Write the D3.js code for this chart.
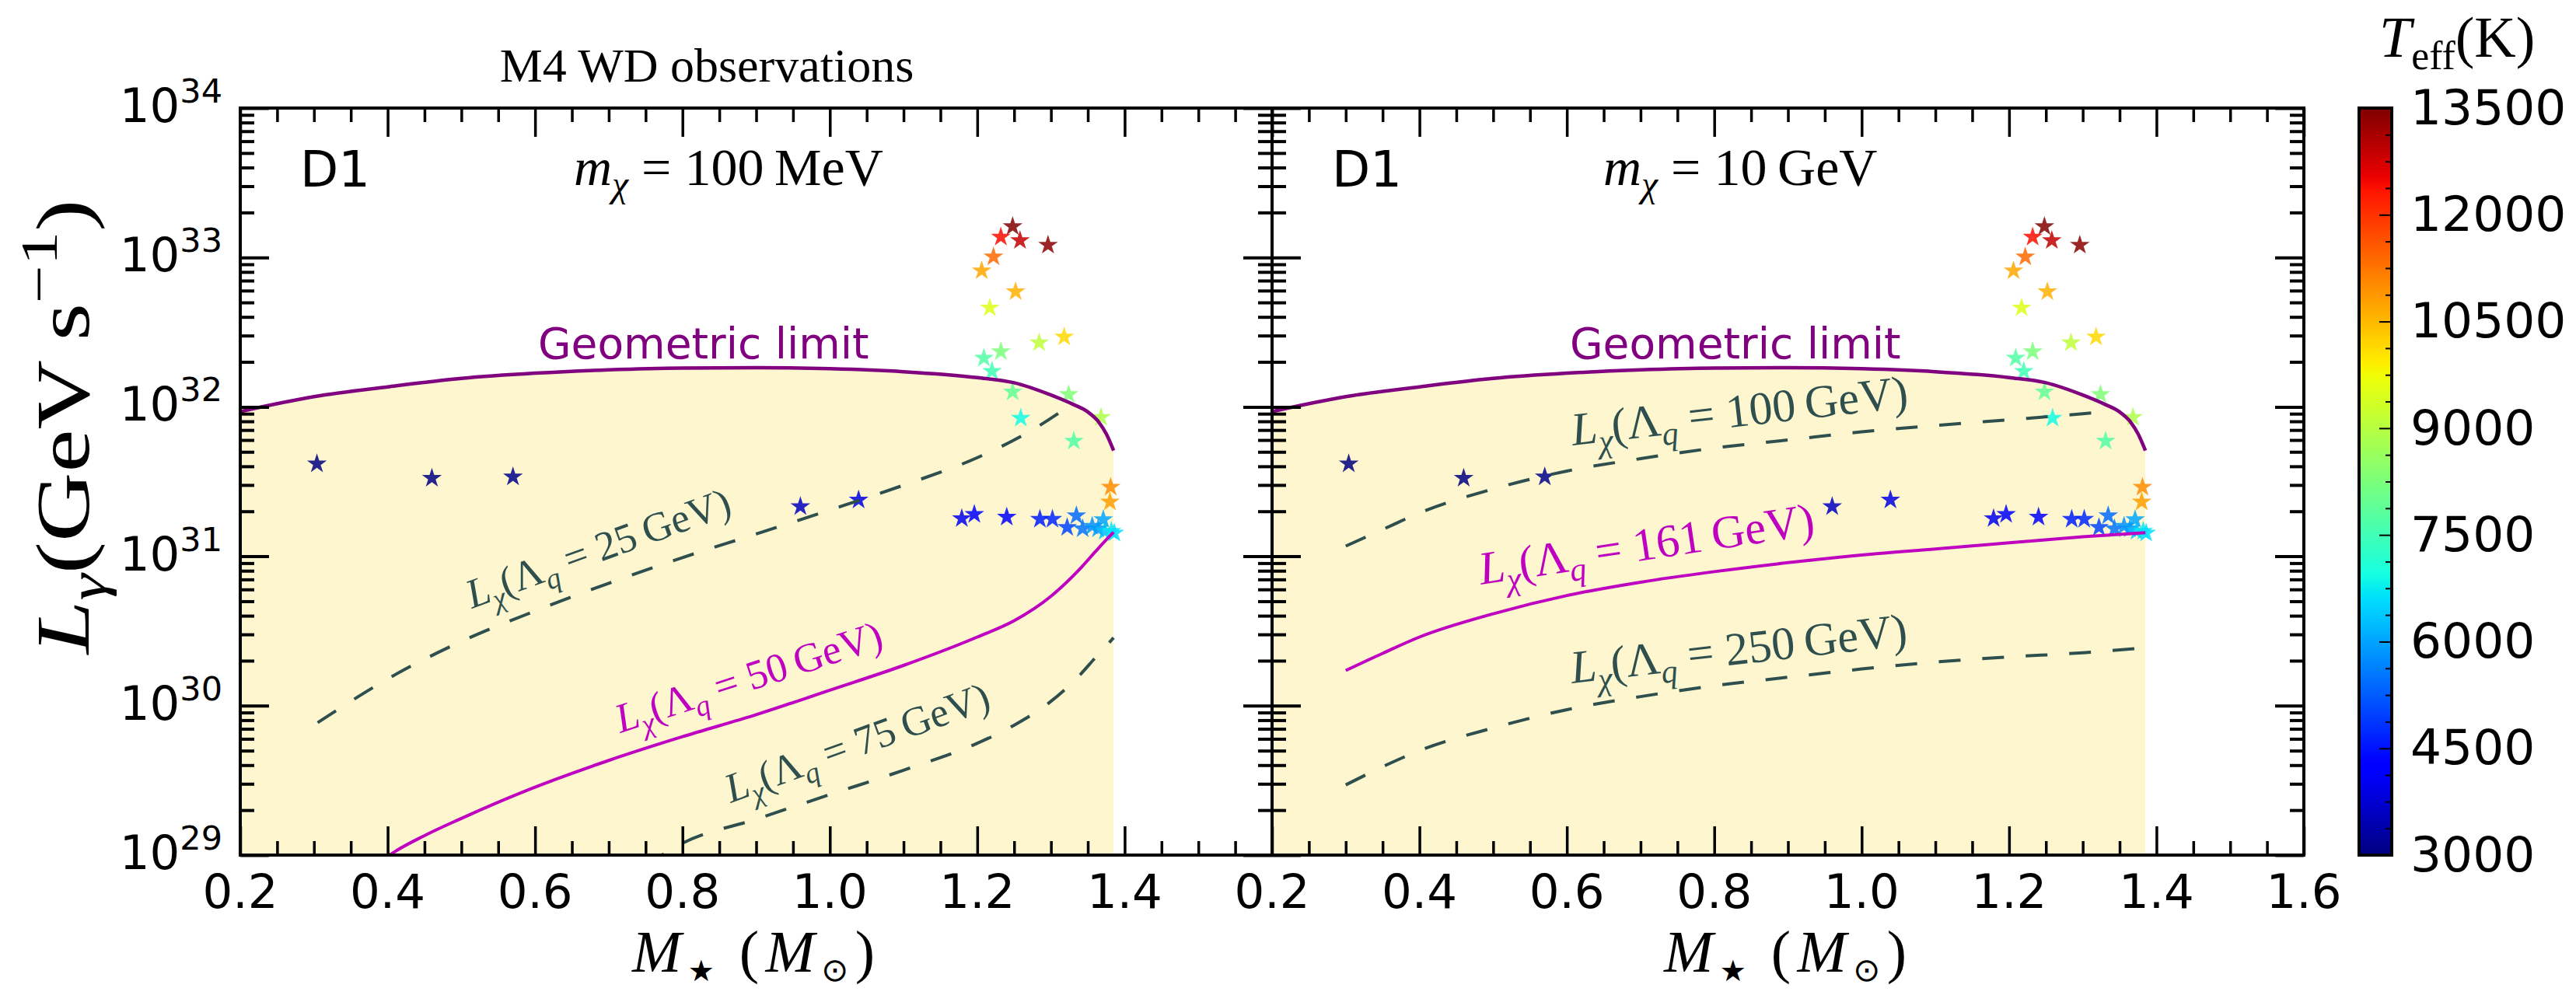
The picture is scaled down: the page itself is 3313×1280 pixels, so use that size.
<!DOCTYPE html>
<html>
<head>
<meta charset="utf-8">
<script src="https://cdn.jsdelivr.net/npm/d3@7"></script>
<style>
  body { margin: 0; background: #fff; }
  svg { display: block; }
</style>
</head>
<body>
<div id="chart"></div>
<script>
// geometric limit (M_sun, GeV/s)
const geoMass = [0.2, 0.3, 0.4, 0.5, 0.6, 0.7, 0.8, 0.9, 1.0, 1.1, 1.2, 1.25, 1.3, 1.33, 1.35, 1.365, 1.375, 1.385];
const geoLum  = [9.3e31, 1.17e32, 1.36e32, 1.55e32, 1.68e32, 1.77e32, 1.82e32, 1.83e32, 1.80e32, 1.72e32, 1.57e32, 1.45e32, 1.20e32, 1.04e32, 9.25e31, 7.9e31, 6.6e31, 5.1e31];

// m_chi = 100 MeV
const lam25Mass = [0.305, 0.35, 0.4, 0.5, 0.6, 0.7, 0.8, 0.9, 1.0, 1.1, 1.2, 1.25, 1.29, 1.315];
const lam25Lum  = [7.7e29, 1.07e30, 1.51e30, 2.69e30, 4.3e30, 6.6e30, 9.8e30, 1.41e31, 2.04e31, 2.99e31, 4.57e31, 6.0e31, 7.8e31, 9.4e31];
const lam50Mass = [0.38, 0.4, 0.45, 0.5, 0.6, 0.7, 0.8, 0.9, 1.0, 1.1, 1.2, 1.25, 1.3, 1.34, 1.36, 1.375, 1.385];
const lam50Lum  = [8.2e28, 9.8e28, 1.35e29, 1.76e29, 2.85e29, 4.3e29, 6.2e29, 8.7e29, 1.27e30, 1.86e30, 2.88e30, 3.7e30, 5.4e30, 8.3e30, 1.07e31, 1.29e31, 1.45e31];
const lam75Mass = [0.75, 0.8, 0.9, 1.0, 1.1, 1.2, 1.25, 1.3, 1.34, 1.36, 1.375, 1.385];
const lam75Lum  = [8.5e28, 1.2e29, 1.74e29, 2.54e29, 3.7e29, 5.6e29, 7.4e29, 1.07e30, 1.62e30, 2.09e30, 2.51e30, 2.85e30];

// m_chi = 10 GeV
const lam100Mass = [0.3, 0.35, 0.4, 0.5, 0.6, 0.7, 0.8, 0.9, 1.0, 1.1, 1.2, 1.3, 1.32];
const lam100Lum  = [1.17e31, 1.51e31, 1.95e31, 2.82e31, 3.72e31, 4.5e31, 5.3e31, 6.0e31, 6.8e31, 7.5e31, 8.2e31, 9.0e31, 9.2e31];
const lam161Mass = [0.3, 0.35, 0.4, 0.5, 0.6, 0.7, 0.8, 0.9, 1.0, 1.1, 1.2, 1.3, 1.385];
const lam161Lum  = [1.72e30, 2.24e30, 2.88e30, 4.12e30, 5.46e30, 6.71e30, 7.89e30, 9.06e30, 1.02e31, 1.12e31, 1.23e31, 1.35e31, 1.44e31];
const lam250Mass = [0.3, 0.35, 0.4, 0.5, 0.6, 0.7, 0.8, 0.9, 1.0, 1.1, 1.2, 1.3, 1.385];
const lam250Lum  = [2.95e29, 3.9e29, 5.0e29, 7.1e29, 9.4e29, 1.15e30, 1.36e30, 1.55e30, 1.76e30, 1.96e30, 2.12e30, 2.26e30, 2.44e30];

// observed white dwarfs
const starMass = [1.248, 1.232, 1.258, 1.296, 1.222, 1.206, 1.252, 1.217, 1.318, 1.284,
                  1.232, 1.209, 1.220, 1.248, 1.324, 1.259, 1.368, 1.331, 1.381, 1.380,
                  0.304, 0.460, 0.570, 0.960, 1.039, 1.179, 1.196, 1.240, 1.285, 1.302,
                  1.3345, 1.322, 1.343, 1.356, 1.371, 1.364, 1.373, 1.382, 1.386];
const starLum  = [1.61e33, 1.37e33, 1.30e33, 1.21e33, 1.01e33, 8.15e32, 5.9e32, 4.6e32, 2.94e32, 2.69e32,
                  2.34e32, 2.12e32, 1.73e32, 1.26e32, 1.21e32, 8.4e31, 8.5e31, 5.9e31, 2.9e31, 2.31e31,
                  4.16e31, 3.33e31, 3.40e31, 2.15e31, 2.38e31, 1.79e31, 1.91e31, 1.83e31, 1.77e31, 1.77e31,
                  1.87e31, 1.56e31, 1.53e31, 1.59e31, 1.76e31, 1.53e31, 1.47e31, 1.47e31, 1.43e31];
const starTeff = [13500, 12400, 12900, 13400, 11400, 10700, 10600, 9500, 10150, 9100,
                  8250, 7700, 7500, 7900, 8300, 6900, 8900, 7700, 11000, 10800,
                  3000, 3000, 3100, 3600, 3900, 4000, 4200, 4200, 4600, 4700,
                  5400, 5000, 5500, 5800, 6000, 5900, 6300, 6700, 6600];

const xMajor = [0.2, 0.4, 0.6, 0.8, 1.0, 1.2, 1.4, 1.6];
const yMajor = [1e29, 1e30, 1e31, 1e32, 1e33, 1e34];
const yExp = ["29", "30", "31", "32", "33", "34"];
const cbTicks = [3000, 4500, 6000, 7500, 9000, 10500, 12000, 13500];

const W = 3313, H = 1280;
const yTop = 139, yBot = 1100;
const slate = "#2f4f4f", magenta = "#c000c0", purple = "#800080", fillColor = "#fdf6ce";
const mathFont = "'Liberation Serif', 'DejaVu Serif', serif";
const sansFont = "'DejaVu Sans', sans-serif";

const svg = d3.select("#chart").append("svg")
    .attr("width", W).attr("height", H)
    .style("background", "#fff");
const defs = svg.append("defs");

const y = d3.scaleLog().domain([1e29, 1e34]).range([yBot, yTop]);

// jet colormap
const jr = d3.scaleLinear().domain([0, 0.35, 0.66, 0.89, 1]).range([0, 0, 1, 1, 0.5]).clamp(true);
const jg = d3.scaleLinear().domain([0, 0.125, 0.375, 0.64, 0.91, 1]).range([0, 0, 1, 1, 0, 0]).clamp(true);
const jb = d3.scaleLinear().domain([0, 0.11, 0.34, 0.65, 1]).range([0.5, 1, 1, 0, 0]).clamp(true);
const jet = t => d3.rgb(255 * jr(t), 255 * jg(t), 255 * jb(t)).formatHex();
const tNorm = d3.scaleLinear().domain([3000, 13500]).range([0, 1]).clamp(true);

// text with sub/superscripts
function mathText(g, parts, size, family) {
  const t = g.append("text").attr("font-family", family || mathFont).attr("font-size", size);
  let shift = 0;
  parts.forEach(p => {
    let s = size, target = 0;
    if (p.sub) { s = size * (p.s || 0.7); target = size * (p.d || 0.22); }
    if (p.sup) { s = size * 0.7; target = -size * 0.42; }
    const sp = t.append("tspan").text(p.t).attr("font-size", s).attr("dy", target - shift);
    if (p.it) sp.attr("font-style", "italic");
    if (p.f) sp.attr("font-family", p.f);
    shift = target;
  });
  return t;
}
const Lchi = q => [{t: "L", it: 1}, {t: "χ", sub: 1, it: 1}, {t: "(Λ"}, {t: "q", sub: 1, it: 1},
                   {t: " = " + q + "\u2009GeV)"}];

const stars = starMass.map((m, j) => ({m, L: starLum[j], T: starTeff[j]}));
const geo = geoMass.map((m, j) => ({m, L: geoLum[j]}));
const zip = (ms, ls) => ms.map((m, j) => ({m, L: ls[j]}));

const panels = [
  {
    x0: 309, x1: 1636, mchi: "100\u2009MeV", mchiX: 738, xLabels: [0.2, 0.4, 0.6, 0.8, 1.0, 1.2, 1.4],
    curves: [
      {d: zip(lam25Mass, lam25Lum), color: slate, dash: true},
      {d: zip(lam50Mass, lam50Lum), color: magenta, dash: false},
      {d: zip(lam75Mass, lam75Lum), color: slate, dash: true}
    ],
    labels: [
      {q: "25", x: 607, y: 783, rot: -20, color: slate, size: 53},
      {q: "50", x: 798, y: 943, rot: -18, color: magenta, size: 53},
      {q: "75", x: 940, y: 1033, rot: -20, color: slate, size: 53}
    ]
  },
  {
    x0: 1636, x1: 2963, mchi: "10\u2009GeV", mchiX: 2062, xLabels: xMajor,
    curves: [
      {d: zip(lam100Mass, lam100Lum), color: slate, dash: true},
      {d: zip(lam161Mass, lam161Lum), color: magenta, dash: false},
      {d: zip(lam250Mass, lam250Lum), color: slate, dash: true}
    ],
    labels: [
      {q: "100", x: 2023, y: 573, rot: -6.5, color: slate, size: 60},
      {q: "161", x: 1905, y: 752, rot: -8.5, color: magenta, size: 60},
      {q: "250", x: 2022, y: 879, rot: -6.5, color: slate, size: 60}
    ]
  }
];

panels.forEach((p, i) => {
  const x = d3.scaleLinear().domain([0.2, 1.6]).range([p.x0, p.x1]);
  const g = svg.append("g");
  defs.append("clipPath").attr("id", "clip" + i)
    .append("rect").attr("x", p.x0).attr("y", yTop).attr("width", p.x1 - p.x0).attr("height", yBot - yTop);
  const plot = g.append("g").attr("clip-path", `url(#clip${i})`);

  // allowed region under the geometric limit
  plot.append("path").datum(geo)
    .attr("d", d3.area().x(d => x(d.m)).y0(yBot).y1(d => y(d.L)).curve(d3.curveMonotoneX))
    .attr("fill", fillColor);

  // stars
  plot.selectAll(".star").data(stars).enter().append("path")
    .attr("transform", d => `translate(${x(d.m)},${y(d.L)})`)
    .attr("d", d3.symbol(d3.symbolStar, 200))
    .attr("fill", d => jet(tNorm(d.T)))
    .attr("fill-opacity", 0.85);

  const line = d3.line().x(d => x(d.m)).y(d => y(d.L)).curve(d3.curveMonotoneX);
  p.curves.forEach(c => {
    plot.append("path").datum(c.d).attr("d", line)
      .attr("fill", "none").attr("stroke", c.color).attr("stroke-width", 4)
      .attr("stroke-dasharray", c.dash ? "28,28" : null);
  });
  plot.append("path").datum(geo).attr("d", line)
    .attr("fill", "none").attr("stroke", purple).attr("stroke-width", 4.5);

  // curve labels
  p.labels.forEach(l => {
    mathText(g, Lchi(l.q), l.size).attr("fill", l.color)
      .attr("transform", `translate(${l.x},${l.y}) rotate(${l.rot})`);
  });
  g.append("text").attr("x", p.x0 + 383).attr("y", 461)
    .attr("font-family", sansFont).attr("font-size", 55).attr("fill", purple)
    .text("Geometric limit");
  g.append("text").attr("x", p.x0 + 77).attr("y", 240)
    .attr("font-family", sansFont).attr("font-size", 64).text("D1");
  mathText(g, [{t: "m", it: 1}, {t: "χ", sub: 1, it: 1}, {t: " = " + p.mchi}], 68)
    .attr("transform", `translate(${p.mchiX},238)`);

  // ticks, all pointing inward
  const minorX = d3.range(0.25, 1.6, 0.05).filter(v => Math.abs(v * 5 - Math.round(v * 5)) > 1e-6);
  const minorY = [];
  yMajor.slice(0, -1).forEach(v => d3.range(2, 10).forEach(k => minorY.push(v * k)));
  function ticks(gen, vals, len, tr, w) {
    const a = g.append("g").attr("transform", tr)
      .call(gen.tickValues(vals).tickSize(-len).tickSizeOuter(0).tickFormat(""));
    a.select(".domain").remove();
    a.selectAll("line").attr("stroke", "#000").attr("stroke-width", w);
  }
  ticks(d3.axisLeft(y), yMajor, 37, `translate(${p.x0},0)`, 4);
  ticks(d3.axisLeft(y), minorY, 18, `translate(${p.x0},0)`, 4);
  ticks(d3.axisRight(y), yMajor, 37, `translate(${p.x1},0)`, 4);
  ticks(d3.axisRight(y), minorY, 18, `translate(${p.x1},0)`, 4);
  ticks(d3.axisBottom(x), xMajor, 37, `translate(0,${yBot})`, 3.5);
  ticks(d3.axisBottom(x), minorX, 18, `translate(0,${yBot})`, 3.5);
  ticks(d3.axisTop(x), xMajor, 37, `translate(0,${yTop})`, 3.5);
  ticks(d3.axisTop(x), minorX, 18, `translate(0,${yTop})`, 3.5);

  g.append("rect").attr("x", p.x0).attr("y", yTop).attr("width", p.x1 - p.x0).attr("height", yBot - yTop)
    .attr("fill", "none").attr("stroke", "#000").attr("stroke-width", 4);

  // x tick labels
  g.selectAll(".xl").data(p.xLabels).enter().append("text")
    .attr("x", d => x(d)).attr("y", 1168).attr("text-anchor", "middle")
    .attr("font-family", sansFont).attr("font-size", 61)
    .text(d => d3.format(".1f")(d));

  // x axis label
  mathText(g, [{t: "M", it: 1}, {t: "★", sub: 1, s: 0.5, d: 0.16, f: sansFont}, {t: "\u2009("}, {t: "M", it: 1},
               {t: "⊙", sub: 1, s: 0.55, d: 0.16, f: sansFont}, {t: ")"}], 76)
    .attr("textLength", 312).attr("lengthAdjust", "spacing")
    .attr("transform", `translate(${p.x0 + 504},1250)`);

  if (i === 0) {
    yMajor.forEach((v, k) => {
      const t = g.append("text").attr("x", p.x0 - 23).attr("y", y(v) + 18)
        .attr("text-anchor", "end").attr("font-family", sansFont);
      t.append("tspan").attr("font-size", 61).text("10");
      t.append("tspan").attr("font-size", 43).attr("dy", -25).text(yExp[k]);
    });
  }
});

// y axis label
mathText(svg, [{t: "L", it: 1}, {t: "γ", sub: 1, it: 1}, {t: "(GeV\u2009s"}, {t: "−1", sup: 1}, {t: ")"}], 98)
  .attr("text-anchor", "middle")
  .attr("textLength", 585).attr("lengthAdjust", "spacingAndGlyphs")
  .attr("transform", "translate(114,549) rotate(-90)");

// title
svg.append("text").attr("x", 909).attr("y", 105).attr("text-anchor", "middle")
  .attr("font-family", mathFont).attr("font-size", 62).text("M4 WD observations");

// colorbar
const cb = d3.scaleLinear().domain([3000, 13500]).range([yBot, yTop]);
const grad = defs.append("linearGradient").attr("id", "jetgrad")
  .attr("x1", 0).attr("y1", 1).attr("x2", 0).attr("y2", 0);
d3.range(0, 1.0001, 0.01).forEach(t => grad.append("stop").attr("offset", t).attr("stop-color", jet(t)));
svg.append("rect").attr("x", 3034).attr("y", yTop).attr("width", 42).attr("height", yBot - yTop)
  .attr("fill", "url(#jetgrad)");
const cbMinor = d3.range(3000, 13501, 375).filter(v => v % 1500 !== 0);
const cbAxis = svg.append("g").attr("transform", "translate(3076,0)")
  .call(d3.axisRight(cb).tickValues(cbTicks).tickSize(-16).tickPadding(24).tickSizeOuter(0).tickFormat(d3.format("d")));
cbAxis.select(".domain").remove();
cbAxis.selectAll("line").attr("stroke", "#000").attr("stroke-width", 2);
cbAxis.selectAll("text").attr("font-family", sansFont).attr("font-size", 63).attr("fill", "#000");
const cbAxis2 = svg.append("g").attr("transform", "translate(3076,0)")
  .call(d3.axisRight(cb).tickValues(cbMinor).tickSize(-8).tickSizeOuter(0).tickFormat(""));
cbAxis2.select(".domain").remove();
cbAxis2.selectAll("line").attr("stroke", "#000").attr("stroke-width", 2);
svg.append("rect").attr("x", 3034).attr("y", yTop).attr("width", 42).attr("height", yBot - yTop)
  .attr("fill", "none").attr("stroke", "#000").attr("stroke-width", 4);

mathText(svg, [{t: "T", it: 1}, {t: "eff", sub: 1}, {t: "(K)"}], 74)
  .attr("transform", "translate(3060,73)");
</script>
</body>
</html>
